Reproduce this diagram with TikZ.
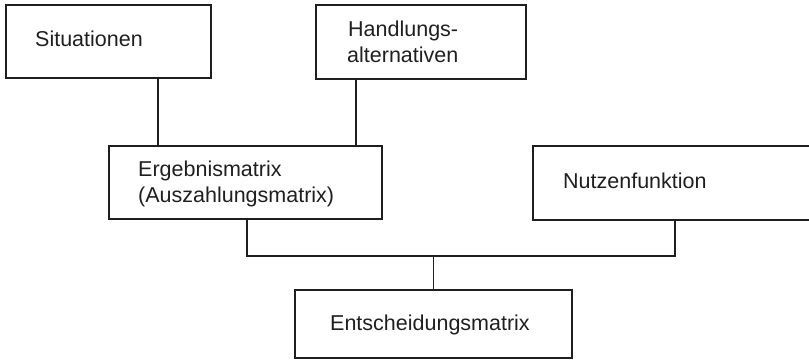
\documentclass[tikz,border=0pt]{standalone}
\usepackage{fontspec}
\setmainfont{Liberation Sans}
\begin{document}
\begin{tikzpicture}[x=1pt,y=-1pt,
  box/.style={draw=black!88, line width=2.6pt, rectangle, inner sep=0pt},
  lbl/.style={anchor=base west, inner sep=0pt, text=black!88,
              font=\fontsize{21.5}{26.5}\selectfont},
  conn/.style={draw=black!88, line width=1.8pt}]
\useasboundingbox (0,0) rectangle (809,361);
\clip (0,0) rectangle (809,361);
% boxes
\node[box, minimum width=205pt, minimum height=73pt] (sit)  at (108.5,41.5) {};
\node[box, minimum width=210pt, minimum height=74pt] (hand) at (421,42) {};
\node[box, minimum width=273pt, minimum height=73pt] (erg)  at (245.5,182.5) {};
\node[box, minimum width=279pt, minimum height=74pt] (nutz) at (672.5,183) {};
\node[box, minimum width=277pt, minimum height=68pt] (ent)  at (433.5,324) {};
% labels
\node[lbl] (tsit)   at (35,47)   {Situationen};
\node[lbl] (thand1) at (348,37)  {Handlungs-};
\node[lbl] (thand2) at (347,63)  {alternativen};
\node[lbl] (terg1)  at (138,176) {Ergebnismatrix};
\node[lbl] (terg2)  at (138,202) {(Auszahlungsmatrix)};
\node[lbl] (tnutz)  at (563,188) {Nutzenfunktion};
\node[lbl] (tent)   at (330,330) {Entscheidungsmatrix};
% connector helpers
\coordinate (s1) at (158,100);
\coordinate (h1) at (356,100);
\coordinate (j1) at (247,256);
\coordinate (j2) at (675,256);
\coordinate (j3) at (433.5,256);
% connectors
\draw[conn] (sit.south -| s1) -- (erg.north -| s1);
\draw[conn] (hand.south -| h1) -- (erg.north -| h1);
\draw[conn] (erg.south -| j1) -- (j1) -- (j2) -- (nutz.south -| j2);
\draw[conn] (j3) -- (ent.north);
\end{tikzpicture}
\end{document}
